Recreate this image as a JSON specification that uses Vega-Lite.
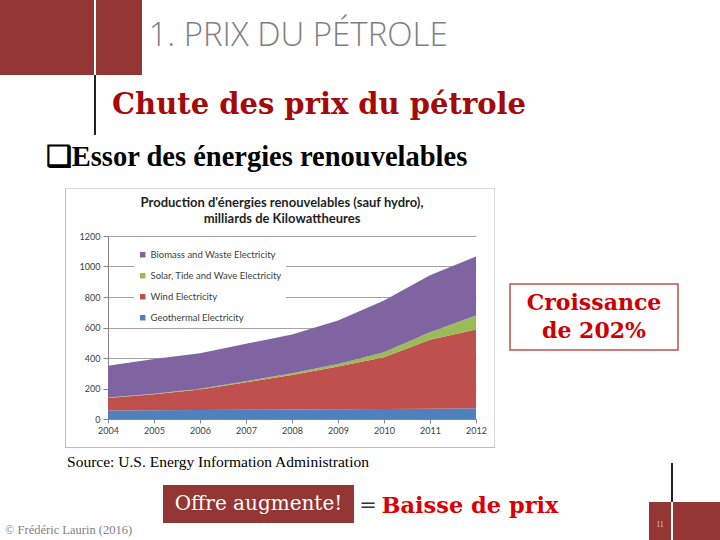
{
  "$schema": "https://vega.github.io/schema/vega-lite/v6.json",
  "background": "white",
  "padding": 0,
  "spacing": 0,
  "config": {"view": {"stroke": null}, "concat": {"spacing": 0}},
  "vconcat": [
    {"spacing": 0, "hconcat": [
      {"width": 94, "height": 75, "data": {"values": []}, "mark": "rect", "view": {"fill": "#943634"}},
      {"width": 2, "height": 75, "data": {"values": []}, "mark": "rect"},
      {"width": 46, "height": 75, "data": {"values": []}, "mark": "rect", "view": {"fill": "#943634"}},
      {"width": 312, "height": 75, "data": {"values": [{"t": "1. PRIX DU PÉTROLE"}]},
       "mark": {"type": "text", "font": "Open Sans", "fontWeight": 300, "fontSize": 33, "color": "#7f7f7f", "align": "center", "baseline": "middle", "dy": -2},
       "encoding": {"text": {"field": "t"}}}
    ]},
    {"spacing": 0, "hconcat": [
      {"width": 94, "height": 60, "data": {"values": []}, "mark": "rect"},
      {"width": 2, "height": 60, "data": {"values": []}, "mark": "rect", "view": {"fill": "#222222"}},
      {"width": 16, "height": 60, "data": {"values": []}, "mark": "rect"},
      {"width": 414, "height": 60, "data": {"values": [{"t": "Chute des prix du pétrole"}]},
       "mark": {"type": "text", "font": "DejaVu Serif", "fontWeight": "bold", "fontSize": 29, "color": "#a50a0a", "align": "center", "baseline": "middle"},
       "encoding": {"text": {"field": "t"}}}
    ]},
    {"spacing": 0, "hconcat": [
      {"width": 40, "height": 53, "data": {"values": []}, "mark": "rect"},
      {"width": 433, "height": 44, "data": {"values": [{"t": "❑Essor des énergies renouvelables"}]},
       "mark": {"type": "text", "font": "Liberation Serif", "fontWeight": "bold", "fontSize": 28.5, "color": "#000000", "align": "center", "baseline": "middle"},
       "encoding": {"text": {"field": "t"}}}
    ]},
    {"spacing": 0, "hconcat": [
      {"width": 65, "height": 260, "data": {"values": []}, "mark": "rect"},
      {"columns": 5, "bounds": "flush", "spacing": 0, "align": "each", "concat": [
        {"width": 1, "height": 1, "data": {"values": []}, "mark": "rect", "view": {"fill": "#d9d9d9"}},
        {"width": 42, "height": 1, "data": {"values": []}, "mark": "rect", "view": {"fill": "#d9d9d9"}},
        {"width": 368, "height": 1, "data": {"values": []}, "mark": "rect", "view": {"fill": "#d9d9d9"}},
        {"width": 18, "height": 1, "data": {"values": []}, "mark": "rect", "view": {"fill": "#d9d9d9"}},
        {"width": 1, "height": 1, "data": {"values": []}, "mark": "rect", "view": {"fill": "#d9d9d9"}},

        {"width": 1, "height": 47, "data": {"values": []}, "mark": "rect", "view": {"fill": "#bfbfbf"}},
        {"width": 42, "height": 47, "data": {"values": []}, "mark": "rect"},
        {"width": 368, "height": 47, "data": {"values": []}, "mark": "rect"},
        {"width": 18, "height": 47, "data": {"values": []}, "mark": "rect"},
        {"width": 1, "height": 47, "data": {"values": []}, "mark": "rect", "view": {"fill": "#d9d9d9"}},

        {"width": 1, "height": 183, "data": {"values": []}, "mark": "rect", "view": {"fill": "#bfbfbf"}},
        {"width": 42, "height": 183, "data": {"values": []}, "mark": "rect"},
        {
          "width": 368, "height": 183,
          "data": {"values": [
            {"year": 2004, "series": "Geothermal Electricity", "value": 55},
            {"year": 2005, "series": "Geothermal Electricity", "value": 57},
            {"year": 2006, "series": "Geothermal Electricity", "value": 59},
            {"year": 2007, "series": "Geothermal Electricity", "value": 60},
            {"year": 2008, "series": "Geothermal Electricity", "value": 62},
            {"year": 2009, "series": "Geothermal Electricity", "value": 64},
            {"year": 2010, "series": "Geothermal Electricity", "value": 66},
            {"year": 2011, "series": "Geothermal Electricity", "value": 68},
            {"year": 2012, "series": "Geothermal Electricity", "value": 70},
            {"year": 2004, "series": "Wind Electricity", "value": 83},
            {"year": 2005, "series": "Wind Electricity", "value": 105},
            {"year": 2006, "series": "Wind Electricity", "value": 134},
            {"year": 2007, "series": "Wind Electricity", "value": 181},
            {"year": 2008, "series": "Wind Electricity", "value": 227},
            {"year": 2009, "series": "Wind Electricity", "value": 280},
            {"year": 2010, "series": "Wind Electricity", "value": 339},
            {"year": 2011, "series": "Wind Electricity", "value": 451},
            {"year": 2012, "series": "Wind Electricity", "value": 517},
            {"year": 2004, "series": "Solar, Tide and Wave Electricity", "value": 3},
            {"year": 2005, "series": "Solar, Tide and Wave Electricity", "value": 4},
            {"year": 2006, "series": "Solar, Tide and Wave Electricity", "value": 5},
            {"year": 2007, "series": "Solar, Tide and Wave Electricity", "value": 7},
            {"year": 2008, "series": "Solar, Tide and Wave Electricity", "value": 11},
            {"year": 2009, "series": "Solar, Tide and Wave Electricity", "value": 17},
            {"year": 2010, "series": "Solar, Tide and Wave Electricity", "value": 33},
            {"year": 2011, "series": "Solar, Tide and Wave Electricity", "value": 50},
            {"year": 2012, "series": "Solar, Tide and Wave Electricity", "value": 92},
            {"year": 2004, "series": "Biomass and Waste Electricity", "value": 209},
            {"year": 2005, "series": "Biomass and Waste Electricity", "value": 228},
            {"year": 2006, "series": "Biomass and Waste Electricity", "value": 233},
            {"year": 2007, "series": "Biomass and Waste Electricity", "value": 245},
            {"year": 2008, "series": "Biomass and Waste Electricity", "value": 254},
            {"year": 2009, "series": "Biomass and Waste Electricity", "value": 285},
            {"year": 2010, "series": "Biomass and Waste Electricity", "value": 339},
            {"year": 2011, "series": "Biomass and Waste Electricity", "value": 373},
            {"year": 2012, "series": "Biomass and Waste Electricity", "value": 387}
          ]},
          "transform": [
            {"calculate": "indexof(['Geothermal Electricity', 'Wind Electricity', 'Solar, Tide and Wave Electricity', 'Biomass and Waste Electricity'], datum.series)", "as": "stackRank"}
          ],
          "title": {"text": ["Production d'énergies renouvelables (sauf hydro),", "milliards de Kilowattheures"], "font": "Lato", "fontSize": 13, "fontWeight": "bold", "color": "#1f1f1f", "anchor": "middle", "frame": "group", "dx": -10, "offset": 6, "lineHeight": 16},
          "mark": {"type": "area", "interpolate": "linear"},
          "encoding": {
            "x": {"field": "year", "type": "quantitative", "scale": {"domain": [2004, 2012], "nice": false, "zero": false},
                  "axis": {"values": [2004, 2005, 2006, 2007, 2008, 2009, 2010, 2011, 2012], "format": "d", "title": null, "grid": false, "labelFont": "Lato", "labelFontSize": 9, "labelColor": "#404040", "domainColor": "#868686", "tickColor": "#868686", "tickSize": 4, "labelPadding": 3, "labelFlush": false}},
            "y": {"field": "value", "type": "quantitative", "stack": "zero", "scale": {"domain": [0, 1200], "nice": false},
                  "axis": {"values": [0, 200, 400, 600, 800, 1000, 1200], "format": "d", "title": null, "grid": true, "gridColor": "#8c8c8c", "gridWidth": 0.8, "labelFont": "Lato", "labelFontSize": 9, "labelColor": "#404040", "domainColor": "#868686", "tickColor": "#868686", "tickSize": 5, "labelPadding": 3}},
            "order": {"field": "stackRank", "type": "quantitative", "sort": "ascending"},
            "color": {"field": "series", "type": "nominal",
                      "scale": {"domain": ["Biomass and Waste Electricity", "Solar, Tide and Wave Electricity", "Wind Electricity", "Geothermal Electricity"], "range": ["#8064a2", "#9bbb59", "#c0504d", "#4f81bd"]},
                      "legend": {"title": null, "orient": "none", "legendX": 134, "legendY": 246, "symbolType": "square", "symbolSize": 30, "symbolStrokeWidth": 0, "labelFont": "Lato", "labelFontSize": 9.5, "labelColor": "#404040", "rowPadding": 10, "fillColor": "white", "padding": 4, "labelOffset": 3}}
          }
        },
        {"width": 18, "height": 183, "data": {"values": []}, "mark": "rect"},
        {"width": 1, "height": 183, "data": {"values": []}, "mark": "rect", "view": {"fill": "#d9d9d9"}},

        {"width": 1, "height": 28, "data": {"values": []}, "mark": "rect", "view": {"fill": "#bfbfbf"}},
        {"width": 42, "height": 28, "data": {"values": []}, "mark": "rect"},
        {"width": 368, "height": 28, "data": {"values": []}, "mark": "rect"},
        {"width": 18, "height": 28, "data": {"values": []}, "mark": "rect"},
        {"width": 1, "height": 28, "data": {"values": []}, "mark": "rect", "view": {"fill": "#d9d9d9"}},

        {"width": 1, "height": 1, "data": {"values": []}, "mark": "rect", "view": {"fill": "#bfbfbf"}},
        {"width": 42, "height": 1, "data": {"values": []}, "mark": "rect", "view": {"fill": "#bfbfbf"}},
        {"width": 368, "height": 1, "data": {"values": []}, "mark": "rect", "view": {"fill": "#bfbfbf"}},
        {"width": 18, "height": 1, "data": {"values": []}, "mark": "rect", "view": {"fill": "#bfbfbf"}},
        {"width": 1, "height": 1, "data": {"values": []}, "mark": "rect", "view": {"fill": "#bfbfbf"}}
      ]},
      {"width": 14, "height": 260, "data": {"values": []}, "mark": "rect"},
      {"spacing": 0, "vconcat": [
        {"width": 168, "height": 95, "data": {"values": []}, "mark": "rect"},
        {"width": 168, "height": 66, "view": {"stroke": "#c0504d", "strokeWidth": 1.5, "fill": "white"},
         "data": {"values": [{"t": "Croissance\nde 202%"}]},
         "mark": {"type": "text", "font": "DejaVu Serif", "fontWeight": "bold", "fontSize": 22, "color": "#cc0000", "align": "center", "baseline": "middle", "lineBreak": "\n", "lineHeight": 28, "dy": -14},
         "encoding": {"text": {"field": "t"}}}
      ]}
    ]},
    {"spacing": 0, "hconcat": [
      {"width": 63, "height": 28, "data": {"values": []}, "mark": "rect"},
      {"width": 310, "height": 28, "data": {"values": [{"t": "Source: U.S. Energy Information Administration"}]},
       "mark": {"type": "text", "font": "Liberation Serif", "fontSize": 15.5, "color": "#000000", "align": "center", "baseline": "middle"},
       "encoding": {"text": {"field": "t"}}},
      {"width": 298, "height": 28, "data": {"values": []}, "mark": "rect"},
      {"spacing": 0, "vconcat": [
        {"width": 2, "height": 15, "data": {"values": []}, "mark": "rect"},
        {"width": 2, "height": 13, "data": {"values": []}, "mark": "rect", "view": {"fill": "#222222"}}
      ]}
    ]},
    {"spacing": 0, "hconcat": [
      {"spacing": 0, "vconcat": [
        {"width": 163, "height": 45, "data": {"values": []}, "mark": "rect"},
        {"width": 137, "height": 18, "data": {"values": [{"t": "© Frédéric Laurin (2016)"}]},
         "mark": {"type": "text", "font": "Liberation Serif", "fontSize": 12.5, "color": "#7f7f7f", "align": "center", "baseline": "middle"},
         "encoding": {"text": {"field": "t"}}}
      ]},
      {"spacing": 0, "vconcat": [
        {"width": 191, "height": 9, "data": {"values": []}, "mark": "rect"},
        {"width": 191, "height": 38, "view": {"fill": "#943634"}, "data": {"values": [{"t": "Offre augmente!"}]},
         "mark": {"type": "text", "font": "DejaVu Serif", "fontSize": 20, "color": "#ffffff", "align": "center", "baseline": "middle"},
         "encoding": {"text": {"field": "t"}}}
      ]},
      {"width": 4, "height": 64, "data": {"values": []}, "mark": "rect"},
      {"spacing": 0, "vconcat": [
        {"width": 20, "height": 9, "data": {"values": []}, "mark": "rect"},
        {"width": 20, "height": 38, "data": {"values": [{"t": "="}]},
         "mark": {"type": "text", "font": "DejaVu Serif", "fontSize": 21, "color": "#333333", "align": "center", "baseline": "middle", "dy": 2},
         "encoding": {"text": {"field": "t"}}}
      ]},
      {"spacing": 0, "vconcat": [
        {"width": 184, "height": 9, "data": {"values": []}, "mark": "rect"},
        {"width": 184, "height": 38, "data": {"values": [{"t": "Baisse de prix"}]},
         "mark": {"type": "text", "font": "DejaVu Serif", "fontWeight": "bold", "fontSize": 22.5, "color": "#dd0000", "align": "center", "baseline": "middle", "dy": 2},
         "encoding": {"text": {"field": "t"}}}
      ]},
      {"width": 87, "height": 64, "data": {"values": []}, "mark": "rect"},
      {"spacing": 0, "vconcat": [
        {"spacing": 0, "hconcat": [
          {"width": 22, "height": 26, "data": {"values": []}, "mark": "rect"},
          {"width": 2, "height": 26, "data": {"values": []}, "mark": "rect", "view": {"fill": "#222222"}}
        ]},
        {"spacing": 0, "hconcat": [
          {"width": 22, "height": 38, "view": {"fill": "#943634"}, "data": {"values": [{"t": "11"}]},
           "mark": {"type": "text", "font": "Liberation Serif", "fontSize": 8, "color": "#e6b8b7", "align": "center", "baseline": "middle", "dy": 4},
           "encoding": {"text": {"field": "t"}}},
          {"width": 2, "height": 38, "data": {"values": []}, "mark": "rect"},
          {"width": 47, "height": 38, "data": {"values": []}, "mark": "rect", "view": {"fill": "#943634"}}
        ]}
      ]}
    ]}
  ]
}
